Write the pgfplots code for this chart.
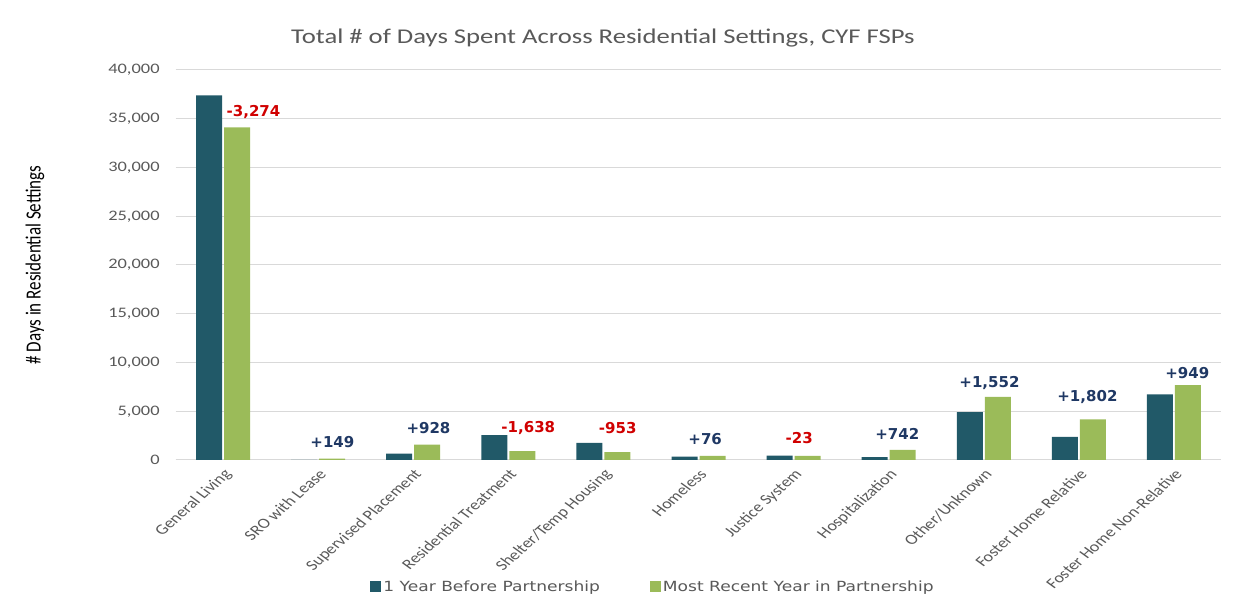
\documentclass[border=0pt]{standalone}
\usepackage{fontspec}
\setmainfont{Carlito}
\newfontfamily\dejavu{DejaVu Sans}
\usepackage{pgfplots}
\pgfplotsset{compat=1.18}
\definecolor{darkteal}{HTML}{215968}
\definecolor{lgreen}{HTML}{9BBB59}
\definecolor{txtgray}{HTML}{595959}
\definecolor{gridgray}{HTML}{D9D9D9}
\definecolor{negred}{HTML}{D00000}
\definecolor{posblue}{HTML}{1F3864}
\newcommand\sx[1]{\scalebox{1.22}[1]{#1}}
\begin{document}
\begin{tikzpicture}[x=1pt,y=1pt]
\useasboundingbox (0,0) rectangle (1256,613);
\begin{axis}[
  at={(175.5pt,153pt)}, anchor=south west,
  scale only axis, width=1046pt, height=390pt,
  xmin=-0.5, xmax=10.5, ymin=0, ymax=40000,
  ybar=2pt, bar width=26pt,
  xtick={0,...,10},
  xticklabels={General Living, SRO with Lease, Supervised Placement, Residential Treatment, Shelter/Temp Housing, Homeless, Justice System, Hospitalization, Other/Unknown, Foster Home Relative, Foster Home Non-Relative},
  xticklabel style={xscale=1.25, rotate=48, anchor=north east, inner sep=1pt, xshift=-5pt, yshift=-4pt, font=\fontsize{14.5}{14.5}\selectfont, text=txtgray},
  ytick={0,5000,...,40000},
  scaled y ticks=false,
  yticklabel style={/pgf/number format/.cd, fixed, 1000 sep={,}, assume math mode=true, /tikz/.cd, font=\fontsize{14.5}{14.5}\selectfont, text=txtgray, xscale=1.27, xshift=-9pt},
  major tick length=0pt,
  axis x line*=bottom, axis y line*=left,
  y axis line style={draw=none},
  x axis line style={gridgray, line width=1pt},
  ymajorgrids, grid style={gridgray, line width=1pt},
  legend style={at={(axis description cs:0.4565,-0.326)}, anchor=center, draw=none, legend columns=2, font=\dejavu\fontsize{14}{15}\selectfont, text=txtgray, /tikz/every even column/.append style={column sep=48pt}},
  legend image code/.code={\fill[#1] (0pt,-5pt) rectangle (11pt,6pt);},
]
\addplot[fill=darkteal, draw=none] coordinates {(0,37400) (1,0) (2,650) (3,2560) (4,1750) (5,350) (6,450) (7,290) (8,4920) (9,2360) (10,6740)};
\addplot[fill=lgreen, draw=none] coordinates {(0,34126) (1,149) (2,1578) (3,922) (4,797) (5,426) (6,427) (7,1032) (8,6472) (9,4162) (10,7689)};
\legend{\sx{1 Year Before Partnership}, \sx{Most Recent Year in Partnership}}
\tikzset{ann/.style={font=\dejavu\bfseries\fontsize{15}{15}\selectfont}}
\node[ann, text=negred] at (axis cs:0.32,35700) {-3,274};
\node[ann, text=posblue] at (axis cs:1.15,1850) {+149};
\node[ann, text=posblue] at (axis cs:2.16,3280) {+928};
\node[ann, text=negred] at (axis cs:3.21,3280) {-1,638};
\node[ann, text=negred] at (axis cs:4.15,3280) {-953};
\node[ann, text=posblue] at (axis cs:5.07,2150) {+76};
\node[ann, text=negred] at (axis cs:6.06,2260) {-23};
\node[ann, text=posblue] at (axis cs:7.09,2670) {+742};
\node[ann, text=posblue] at (axis cs:8.06,7900) {+1,552};
\node[ann, text=posblue] at (axis cs:9.09,6460) {+1,802};
\node[ann, text=posblue] at (axis cs:10.14,8920) {+949};
\end{axis}
\node[text=txtgray, font=\fontsize{21}{21}\selectfont, xscale=1.27] at (603,575) {Total \# of Days Spent Across Residential Settings, CYF FSPs};
\node[xscale=1.27, rotate=90, font=\fontsize{17}{17}\selectfont] at (35,348) {\# Days in Residential Settings};
\end{tikzpicture}
\end{document}
